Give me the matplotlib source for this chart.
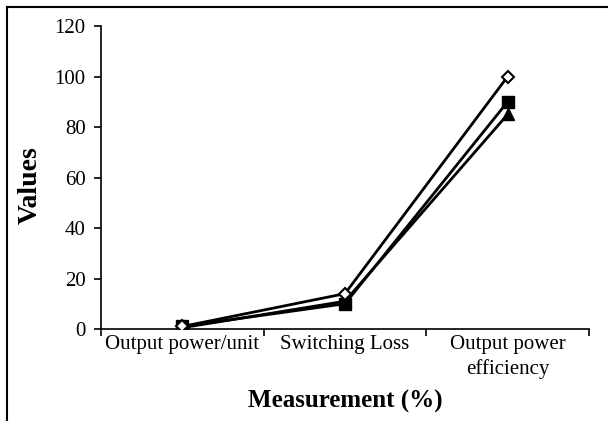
import matplotlib
matplotlib.use("Agg")
import matplotlib.pyplot as plt
from matplotlib.lines import Line2D

categories = ["Output power/unit", "Switching Loss", "Output power\nefficiency"]
series_a = [1, 14, 100]   # open diamond
series_b = [1, 10, 90]    # filled square
series_c = [0.5, 11, 85]  # filled triangle

plt.rcParams['font.family'] = ['Liberation Serif', 'DejaVu Serif']

fig = plt.figure(figsize=(6.08, 4.21), dpi=100)
ax = fig.add_axes([101/608, 1 - 329/421, (589 - 101)/608, (329 - 26)/421])

x = list(range(len(categories)))
ax.plot(x, series_c, color='black', lw=2, marker='^', ms=8.5, mfc='black', mec='black', zorder=3)
ax.plot(x, series_b, color='black', lw=2, marker='s', ms=8, mfc='black', mec='black', zorder=4)
ax.plot(x, series_a, color='black', lw=2, marker='D', ms=6.5, mfc='white', mec='black', mew=1.5, zorder=5)

ax.set_xlim(-0.5, 2.5)
ax.set_ylim(0, 120)
ax.set_yticks(range(0, 121, 20))
ax.set_xticks(x)
ax.set_xticklabels(categories, fontsize=15, linespacing=1.35)
ax.set_xticks([-0.5, 0.5, 1.5, 2.5], minor=True)
ax.tick_params(axis='x', which='major', length=0, pad=4)
ax.tick_params(axis='x', which='minor', length=5, width=1.2, direction='out')
ax.tick_params(axis='y', length=5, width=1.2, direction='out', labelsize=15, pad=6)

for s in ['top', 'right']:
    ax.spines[s].set_visible(False)
for s in ['left', 'bottom']:
    ax.spines[s].set_linewidth(1.2)

ax.set_ylabel("Values", fontsize=20, fontweight='bold')
ax.set_xlabel("Measurement (%)", fontsize=18, fontweight='bold')
ax.yaxis.set_label_coords((43 - 101) / 488, (329 - 185) / 303)
ax.xaxis.set_label_coords((345 - 101) / 488, (329 - 390) / 303)

# figure border (top and left visible)
fig.add_artist(Line2D([7/608, 1.0], [1 - 7/421, 1 - 7/421], transform=fig.transFigure, color='black', lw=1.5))
fig.add_artist(Line2D([7/608, 7/608], [1 - 7/421, 0.0], transform=fig.transFigure, color='black', lw=1.5))

fig.savefig("out.png", dpi=100)
